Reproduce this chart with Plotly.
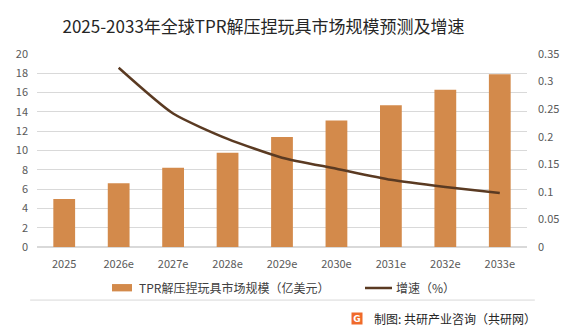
import plotly.graph_objects as go

years = ["2025", "2026e", "2027e", "2028e", "2029e", "2030e", "2031e", "2032e", "2033e"]
market_size = [4.98, 6.6, 8.2, 9.77, 11.4, 13.1, 14.7, 16.3, 17.9]
growth_years = ["2026e", "2027e", "2028e", "2029e", "2030e", "2031e", "2032e", "2033e"]
growth = [0.325, 0.242, 0.196, 0.162, 0.142, 0.122, 0.109, 0.098]

left_ticks = [0, 2, 4, 6, 8, 10, 12, 14, 16, 18, 20]
right_ticks = [0, 0.05, 0.1, 0.15, 0.2, 0.25, 0.3, 0.35]
right_tick_text = ["0", "0.05", "0.1", "0.15", "0.2", "0.25", "0.3", "0.35"]

bar_name = "TPR解压捏玩具市场规模（亿美元）"
line_name = "增速（%）"

FONT = "Noto Sans CJK SC"
TICK_COLOR = "#595959"
BAR_COLOR = "#D38A4B"
LINE_COLOR = "#5A3A22"

fig = go.Figure()
fig.add_trace(go.Bar(
    x=years, y=market_size, name=bar_name, showlegend=False,
    marker=dict(color=BAR_COLOR, line=dict(width=0)), width=0.4, yaxis="y",
))
fig.add_trace(go.Scatter(
    x=growth_years, y=growth, name=line_name, mode="lines", showlegend=False,
    line=dict(color=LINE_COLOR, width=2.5, shape="spline", smoothing=0.6), yaxis="y2",
))

fig.update_layout(
    width=571, height=328,
    margin=dict(l=37, r=44, t=54, b=81),
    paper_bgcolor="white", plot_bgcolor="white",
    font=dict(family=FONT, size=11, color=TICK_COLOR),
    title=dict(text="2025-2033年全球TPR解压捏玩具市场规模预测及增速",
               x=0.4615, xanchor="center", y=0.918, yanchor="middle",
               xref="container", yref="container",
               font=dict(family=FONT, size=17, color="#262626")),
    xaxis=dict(type="category", showgrid=False, showline=False, ticks="",
               ticklabelstandoff=9, tickfont=dict(size=11, color=TICK_COLOR)),
    yaxis=dict(range=[0, 20], tickvals=left_ticks, showgrid=True, gridcolor="#D9D9D9",
               gridwidth=1, zeroline=True, zerolinecolor="#D9D9D9", showline=False,
               ticks="", ticklabelstandoff=8, tickfont=dict(size=11, color=TICK_COLOR)),
    yaxis2=dict(range=[0, 0.35], tickvals=right_ticks, ticktext=right_tick_text,
                overlaying="y", side="right", showgrid=False, zeroline=False,
                showline=False, ticks="", ticklabelstandoff=10,
                tickfont=dict(size=11, color=TICK_COLOR)),
    showlegend=False,
    bargap=0.6,
)

# manual legend
LEG_Y = -0.2124
fig.add_shape(type="rect", xref="paper", yref="paper", x0=0.1531, x1=0.1939,
              y0=-0.192, y1=-0.230, fillcolor=BAR_COLOR, line=dict(width=0))
fig.add_annotation(text=bar_name, xref="paper", yref="paper", x=0.2041, y=LEG_Y,
                   xanchor="left", yanchor="middle", showarrow=False,
                   font=dict(family=FONT, size=12, color="#404040"))
fig.add_shape(type="line", xref="paper", yref="paper", x0=0.6694, x1=0.7245,
              y0=LEG_Y, y1=LEG_Y, line=dict(color=LINE_COLOR, width=2.5))
fig.add_annotation(text=line_name, xref="paper", yref="paper", x=0.7286, y=LEG_Y,
                   xanchor="left", yanchor="middle", showarrow=False,
                   font=dict(family=FONT, size=12, color="#404040"))

fig.add_shape(type="line", xref="paper", yref="paper", x0=-0.014, x1=1.016,
              y0=-0.275, y1=-0.275, line=dict(color="#D9D9D9", width=1))

fig.add_annotation(text="制图: 共研产业咨询（共研网）", xref="paper", yref="paper",
                   x=1.0224, y=-0.368, xanchor="right", yanchor="middle", showarrow=False,
                   font=dict(family=FONT, size=12, color="#262626"))
fig.add_annotation(text="<b>G</b>", xref="paper", yref="paper",
                   x=0.653, y=-0.368, xanchor="center", yanchor="middle", showarrow=False,
                   bgcolor="#F06A2A", borderpad=0, width=10, height=11,
                   font=dict(family="DejaVu Sans", size=9, color="white"))

fig.write_html("out.html")
